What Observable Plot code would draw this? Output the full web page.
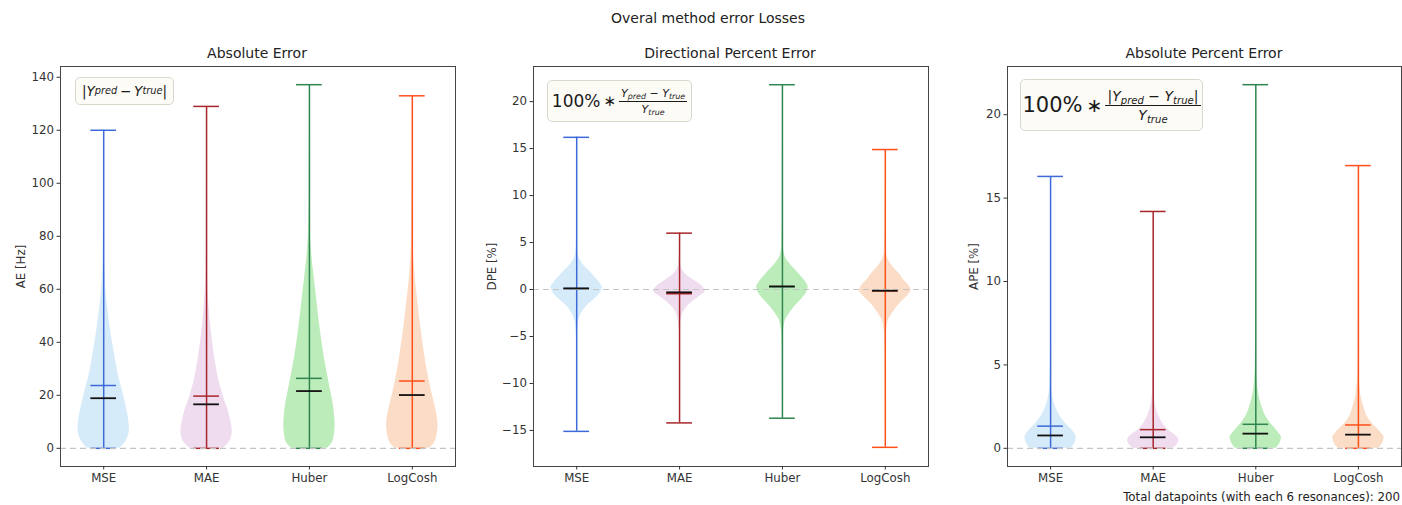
<!DOCTYPE html>
<html><head><meta charset="utf-8">
<script src="https://cdn.jsdelivr.net/npm/d3@7"></script>
<script src="https://cdn.jsdelivr.net/npm/@observablehq/plot@0.6"></script>
<style>
body{margin:0;background:#fff;font-family:"DejaVu Sans",sans-serif;color:#222;}
#root{position:relative;width:1402px;height:505px;overflow:hidden;background:#fff;}
.abs{position:absolute;white-space:nowrap;}
.ttl{font-size:14px;transform:translate(-50%,-50%);}
.box{position:absolute;background:#fcfbf6;border:1px solid #d9d8cf;border-radius:5px;display:flex;align-items:center;justify-content:center;box-sizing:border-box;white-space:nowrap;color:#1a1a1a;}
.frac{display:inline-flex;flex-direction:column;align-items:center;vertical-align:middle;margin-left:3px;}
.frac .num{border-bottom:1px solid #1a1a1a;padding:0 2px 1px 2px;}
.frac .den{padding-top:1px;}
sub{font-size:72%;vertical-align:-0.28em;line-height:0;}
i{font-style:italic;}
</style></head><body><div id="root"></div>
<script>
const methods = ["MSE", "MAE", "Huber", "LogCosh"];
const lineColors = ["#3d69d9", "#a8262a", "#2e8550", "#ff5019"];
const fillColors = ["#d6ebfa", "#efdcef", "#bdecbb", "#fbdcc6"];

// Absolute Error [Hz]
const aeMax = [120, 129, 137.2, 133];
const aeMin = [0, 0, 0, 0];
const aeMean = [23.7, 19.7, 26.4, 25.4];
const aeMedian = [18.9, 16.6, 21.6, 20.1];
const aeMSE = [[0,0.62],[2,0.82],[4,0.93],[7,1.0],[10,0.98],[14,0.91],[18,0.82],[22,0.72],[26,0.61],[30,0.52],[35,0.43],[40,0.34],[46,0.25],[52,0.17],[58,0.1],[64,0.055],[70,0.03],[80,0.012],[95,0.005],[120,0]];
const aeMAE = [[0,0.64],[2,0.86],[4,0.96],[6.5,1.0],[9,0.97],[12,0.9],[15,0.82],[18,0.7],[22,0.58],[26,0.47],[30,0.39],[36,0.29],[42,0.21],[48,0.14],[54,0.09],[60,0.05],[68,0.025],[80,0.01],[100,0.004],[129,0]];
const aeHuber = [[0,0.7],[2,0.88],[5,0.97],[9,1.0],[13,0.97],[17,0.92],[21,0.84],[26,0.74],[31,0.64],[36,0.55],[42,0.46],[48,0.38],[54,0.31],[60,0.24],[66,0.17],[72,0.1],[78,0.055],[85,0.025],[100,0.008],[137.2,0]];
const aeLogCosh = [[0,0.66],[2,0.86],[5,0.96],[9,1.0],[13,0.95],[17,0.86],[21,0.76],[26,0.65],[31,0.55],[36,0.47],[42,0.38],[48,0.3],[54,0.23],[60,0.16],[66,0.1],[72,0.055],[80,0.025],[95,0.008],[133,0]];

// Directional Percent Error [%]
const dpeMax = [16.2, 6.0, 21.8, 14.9];
const dpeMin = [-15.1, -14.2, -13.7, -16.8];
const dpeMean = [0.1, -0.45, 0.3, -0.15];
const dpeMedian = [0.12, -0.3, 0.33, -0.13];
const dpeMSE = [[-15.1,0],[-8,0.004],[-5,0.015],[-4,0.04],[-3.2,0.09],[-2.6,0.17],[-2.2,0.26],[-1.6,0.45],[-1.16,0.63],[-0.6,0.85],[0,0.98],[0.25,1.0],[0.6,0.93],[1.1,0.78],[1.66,0.6],[2.2,0.4],[2.7,0.24],[3.2,0.12],[3.8,0.05],[5,0.015],[8,0.004],[16.2,0]];
const dpeMAE = [[-14.2,0],[-8,0.004],[-5,0.01],[-3.6,0.035],[-2.8,0.09],[-2.2,0.19],[-1.6,0.38],[-1.16,0.56],[-0.6,0.84],[-0.2,1.0],[0.3,0.9],[0.95,0.57],[1.4,0.33],[1.9,0.15],[2.5,0.05],[3.5,0.015],[6,0]];
const dpeHuber = [[-13.7,0],[-8,0.006],[-5,0.025],[-4,0.06],[-3.2,0.13],[-2.7,0.24],[-2.2,0.37],[-1.6,0.55],[-1.16,0.7],[-0.5,0.9],[0.25,1.0],[0.8,0.9],[1.3,0.76],[1.66,0.65],[2.2,0.46],[2.7,0.3],[3.2,0.16],[3.8,0.07],[5,0.025],[8,0.008],[12,0.003],[21.8,0]];
const dpeLogCosh = [[-16.8,0],[-8,0.006],[-5,0.025],[-4,0.06],[-3.2,0.13],[-2.7,0.24],[-2.2,0.36],[-1.6,0.53],[-1.16,0.68],[-0.5,0.92],[-0.1,1.0],[0.4,0.92],[1.0,0.72],[1.66,0.55],[2.2,0.36],[2.7,0.22],[3.2,0.11],[4,0.04],[6,0.01],[14.9,0]];

// Absolute Percent Error [%]
const apeMax = [16.3, 14.2, 21.8, 16.95];
const apeMin = [0, 0, 0, 0];
const apeMean = [1.33, 1.12, 1.44, 1.4];
const apeMedian = [0.77, 0.66, 0.88, 0.82];
const apeMSE = [[0,0.8],[0.2,0.9],[0.45,0.98],[0.66,1.0],[0.9,0.93],[1.26,0.73],[1.55,0.55],[1.86,0.4],[2.15,0.29],[2.45,0.2],[3.05,0.09],[3.6,0.04],[4.5,0.015],[6,0.005],[9,0.002],[16.3,0]];
const apeMAE = [[0,0.78],[0.2,0.92],[0.46,1.0],[0.75,0.9],[1.06,0.62],[1.36,0.44],[1.66,0.31],[1.96,0.21],[2.26,0.14],[2.86,0.06],[3.5,0.025],[5,0.008],[8,0.002],[14.2,0]];
const apeHuber = [[0,0.8],[0.2,0.9],[0.45,0.98],[0.66,1.0],[0.95,0.88],[1.26,0.71],[1.55,0.55],[1.86,0.41],[2.15,0.32],[2.45,0.25],[3.05,0.14],[3.6,0.08],[4.3,0.04],[5.5,0.015],[8,0.005],[12,0.002],[21.8,0]];
const apeLogCosh = [[0,0.78],[0.2,0.9],[0.45,0.98],[0.66,1.0],[0.95,0.87],[1.26,0.68],[1.55,0.5],[1.86,0.36],[2.15,0.28],[2.45,0.22],[3.05,0.11],[3.85,0.05],[5,0.015],[8,0.005],[16.95,0]];

const yTicksAE = [0, 20, 40, 60, 80, 100, 120, 140];
const yTicksDPE = [-15, -10, -5, 0, 5, 10, 15, 20];
const yTicksAPE = [0, 5, 10, 15, 20];

const root = document.getElementById("root");
function addDiv(cls, html, style) {
  const d = document.createElement("div");
  d.className = cls; d.innerHTML = html; d.setAttribute("style", style);
  root.appendChild(d); return d;
}

const HALF = 0.25, CAP = 0.125;
function panel(o) {
  const rows = o.profiles.flatMap((p, i) => p.map(([v, w]) => ({method: methods[i], pos: i + 1, v, w, fill: fillColors[i]})));
  const stats = methods.map((m, i) => ({method: m, pos: i + 1, max: o.max[i], min: o.min[i], mean: o.mean[i], median: o.median[i], line: lineColors[i]}));
  const cap = (key, extra) => Plot.ruleY(stats, Object.assign({y: key, x1: d => d.pos - CAP, x2: d => d.pos + CAP, stroke: "line", strokeWidth: 1.5}, extra || {}));
  const fmt = d => d < 0 ? "\u2212" + (-d) : String(d);
  const svg = Plot.plot({
    width: o.width, height: 450,
    marginLeft: o.marginLeft, marginRight: o.marginRight, marginTop: 26, marginBottom: 24,
    style: {fontFamily: "DejaVu Sans", fontSize: "11.8px", color: "#333", background: "transparent", overflow: "visible"},
    x: {domain: [0.58, 4.42]},
    y: {domain: o.domain},
    color: {type: "identity"},
    marks: [
      Plot.areaX(rows, {y: "v", x1: d => d.pos - d.w * HALF, x2: d => d.pos + d.w * HALF, z: "method", fill: "fill", curve: "monotone-y"}),
      Plot.ruleX(stats, {x: "pos", y1: "min", y2: "max", stroke: "line", strokeWidth: 1.5}),
      cap("max"), cap("min"), cap("mean"),
      Plot.ruleY([0], {stroke: "#c4c4c4", strokeWidth: 1.2, strokeDasharray: "6,4"}),
      cap("median", {stroke: "#111", strokeWidth: 1.8}),
      Plot.frame({stroke: "#444", strokeWidth: 1}),
      Plot.axisX({ticks: [1, 2, 3, 4], tickFormat: d => methods[d - 1], tickSize: 3.5, tickPadding: 4, label: null, fontSize: 11.8}),
      Plot.axisY({ticks: o.ticks, tickFormat: fmt, tickSize: 3.5, tickPadding: 3, fontSize: 11.8,
        label: o.label, labelAnchor: "center", labelArrow: "none", labelOffset: o.labelOffset})
    ]
  });
  svg.style.position = "absolute";
  svg.style.left = o.left + "px";
  svg.style.top = "40px";
  root.appendChild(svg);
}

panel({profiles: [aeMSE, aeMAE, aeHuber, aeLogCosh], max: aeMax, min: aeMin, mean: aeMean, median: aeMedian,
  domain: [-6.86, 144.06], ticks: yTicksAE, label: "AE [Hz]", labelOffset: 44,
  width: 470, marginLeft: 60, marginRight: 15, left: 0});
panel({profiles: [dpeMSE, dpeMAE, dpeHuber, dpeLogCosh], max: dpeMax, min: dpeMin, mean: dpeMean, median: dpeMedian,
  domain: [-18.84, 23.74], ticks: yTicksDPE, label: "DPE [%]", labelOffset: 46,
  width: 470, marginLeft: 63, marginRight: 12, left: 470});
panel({profiles: [apeMSE, apeMAE, apeHuber, apeLogCosh], max: apeMax, min: apeMin, mean: apeMean, median: apeMedian,
  domain: [-1.09, 22.89], ticks: yTicksAPE, label: "APE [%]", labelOffset: 38,
  width: 462, marginLeft: 67, marginRight: 1, left: 940});

addDiv("abs ttl", "Overal method error Losses", "left:708px;top:18px;");
addDiv("abs ttl", "Absolute Error", "left:257px;top:53px;");
addDiv("abs ttl", "Directional Percent Error", "left:730px;top:53px;");
addDiv("abs ttl", "Absolute Percent Error", "left:1204px;top:53px;");
addDiv("abs", "Total datapoints (with each 6 resonances): 200", "right:2px;top:490px;font-size:11.8px;");

addDiv("box", "|<i>Y</i><sub><i>pred</i></sub>&thinsp;\u2212&thinsp;<i>Y</i><sub><i>true</i></sub>|",
  "left:75px;top:77px;width:99px;height:28px;font-size:13.6px;");
addDiv("box", "<span style='font-size:17px'>100%</span><span style='font-size:15px;margin-left:3px'>\u2217</span><span class='frac' style='font-size:11px'><span class='num'><i>Y</i><sub><i>pred</i></sub> \u2212 <i>Y</i><sub><i>true</i></sub></span><span class='den'><i>Y</i><sub><i>true</i></sub></span></span>",
  "left:547px;top:80px;width:145px;height:42px;");
addDiv("box", "<span style='font-size:21px'>100%</span><span style='font-size:19px;margin-left:4px'>\u2217</span><span class='frac' style='font-size:14px'><span class='num'>|<i>Y</i><sub><i>pred</i></sub> \u2212 <i>Y</i><sub><i>true</i></sub>|</span><span class='den'><i>Y</i><sub><i>true</i></sub></span></span>",
  "left:1020px;top:79px;width:183px;height:52px;");
</script></body></html>
